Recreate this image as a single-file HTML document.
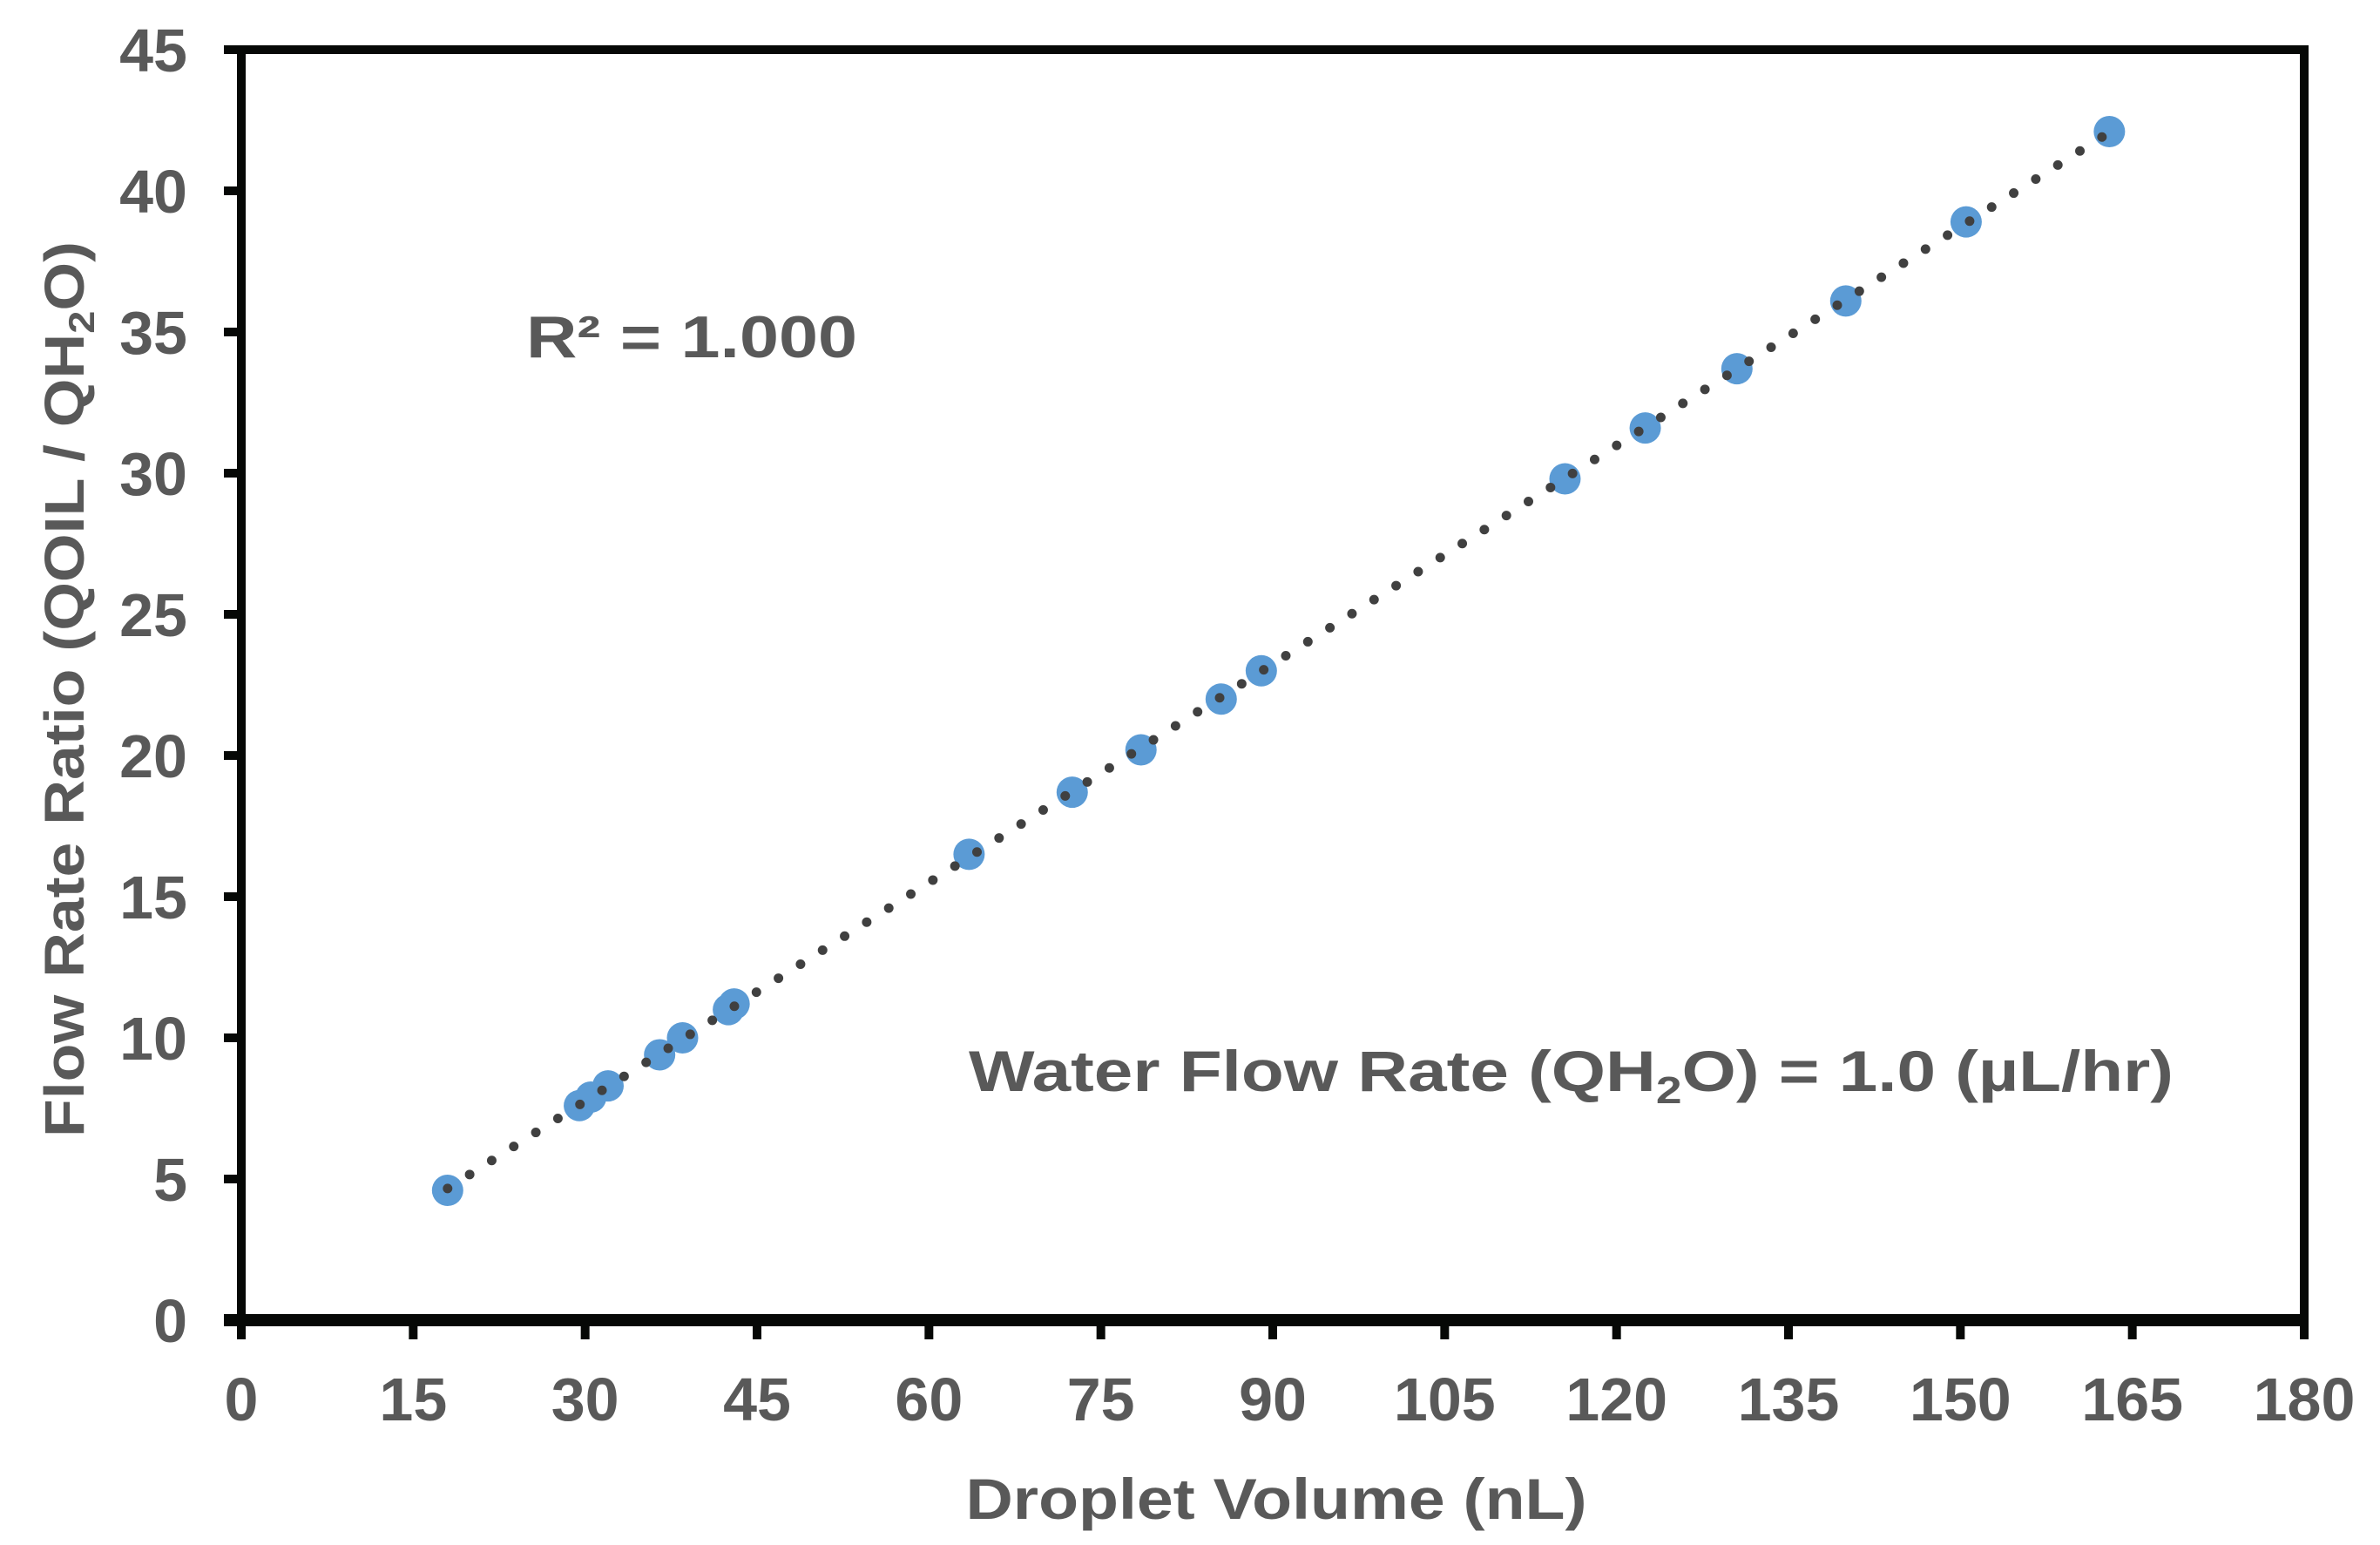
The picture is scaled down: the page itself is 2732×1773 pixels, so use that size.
<!DOCTYPE html>
<html><head><meta charset="utf-8"><style>
html,body{margin:0;padding:0;background:#fff;}
svg{display:block;font-family:"Liberation Sans",Arial,sans-serif;font-weight:bold;}
</style></head><body>
<svg id="chart" width="2732" height="1773" viewBox="0 0 2732 1773" xmlns="http://www.w3.org/2000/svg">
<rect width="2732" height="1773" fill="#fff"/>
<g id="grid"></g>
<g id="series"></g>
<text x="604" y="410" font-size="68" fill="#595959" textLength="380" lengthAdjust="spacingAndGlyphs">R² = 1.000</text>
<text x="1112" y="1252" font-size="66" fill="#595959" textLength="1383" lengthAdjust="spacingAndGlyphs">Water Flow Rate (QH<tspan font-size="44" dy="14">2</tspan><tspan dy="-14">O) = 1.0 (µL/hr)</tspan></text>
<text x="1465" y="1743" font-size="66" fill="#595959" text-anchor="middle" textLength="713" lengthAdjust="spacingAndGlyphs">Droplet Volume (nL)</text>
<text transform="translate(96,791) rotate(-90)" font-size="64" fill="#595959" text-anchor="middle" textLength="1028" lengthAdjust="spacingAndGlyphs">Flow Rate Ratio (QOIL / QH<tspan font-size="42" dy="12">2</tspan><tspan dy="-12">O)</tspan></text>
</svg>
<script>
const xs = [18,29.5,30.5,32,36.5,38.5,42.5,43,63.5,72.5,78.5,85.5,89,115.5,122.5,130.5,140,150.5,163];
const ys = [4.6,7.6,7.9,8.3,9.4,10,11,11.2,16.5,18.7,20.2,22,23,29.8,31.6,33.7,36.1,38.9,42.1];
const xTicks = [0,15,30,45,60,75,90,105,120,135,150,165,180];
const yTicks = [0,5,10,15,20,25,30,35,40,45];
const X0=277,X1=2645,Y0=1515,Y1=57;
const sx=v=>X0+(v-0)/180*(X1-X0);
const sy=v=>Y0-(v-0)/45*(Y0-Y1);
const NS="http://www.w3.org/2000/svg";
const g=document.getElementById('grid');
const s=document.getElementById('series');
function mk(tag,attrs,parent){const e=document.createElementNS(NS,tag);for(const k in attrs)e.setAttribute(k,attrs[k]);parent.appendChild(e);return e;}
const fr=mk('rect',{x:X0,y:Y1,width:X1-X0,height:Y0-Y1,fill:'none',stroke:'#060806','stroke-width':10},g);


const xb=mk('line',{x1:X0-20,y1:Y0,x2:X1+4,y2:Y0,stroke:'#060806','stroke-width':14},g);


xTicks.forEach(t=>{
  const l=mk('line',{x1:sx(t),y1:Y0,x2:sx(t),y2:Y0+22,stroke:'#060806','stroke-width':10},g);
  
  
  const tx=mk('text',{x:sx(t),y:1630,'font-size':70,fill:'#595959','text-anchor':'middle'},g);
  tx.textContent=t;
  
  
});
yTicks.forEach(t=>{
  const l=mk('line',{x1:X0-20,y1:sy(t),x2:X0,y2:sy(t),stroke:'#060806','stroke-width':10},g);
  
  
  const tx=mk('text',{x:215,y:sy(t)+25,'font-size':70,fill:'#595959','text-anchor':'end'},g);
  tx.textContent=t;
  
  
});
xs.forEach((x,i)=>{
  const c=mk('circle',{cx:sx(x),cy:sy(ys[i]),r:18,fill:'#5b9bd5'},s);
  
  
});
const n=xs.length;let mx=0,my=0;xs.forEach((x,i)=>{mx+=x;my+=ys[i];});mx/=n;my/=n;
let num=0,den=0;xs.forEach((x,i)=>{num+=(x-mx)*(ys[i]-my);den+=(x-mx)*(x-mx);});
const b=num/den,a=my-b*mx;
const xmin=Math.min(...xs),xmax=Math.max(...xs);
const tl=mk('line',{x1:sx(xmin),y1:sy(a+b*xmin),x2:sx(xmax),y2:sy(a+b*xmax),stroke:'#404040','stroke-width':11,'stroke-linecap':'round','stroke-dasharray':'0 30'},s);


</script>
</body></html>
